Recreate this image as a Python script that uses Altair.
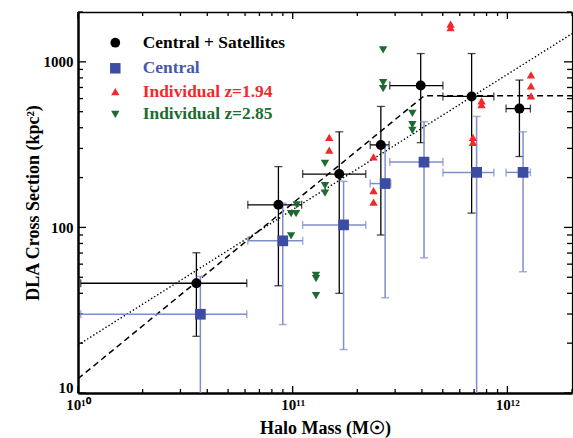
import math
import altair as alt
import pandas as pd

# ---------------- data ----------------
# Central + Satellites (black circles)
cs_mass = [3.56e10, 8.58e10, 1.648e11, 2.574e11, 3.947e11, 6.815e11, 1.138e12]
cs_sigma = [46, 137, 210, 315, 719, 618, 522]
cs_mass_lo = [1.03e10, 6.18e10, 1.113e11, 2.296e11, 2.834e11, 5.01e11, 9.86e11]
cs_mass_hi = [6.11e10, 1.101e11, 2.19e11, 2.812e11, 5.01e11, 8.65e11, 1.28e12]
cs_sigma_lo = [22, 44.4, 40, 90, 325, 122, 268]
cs_sigma_hi = [70.3, 233, 378, 538, 1122, 1122, 776]

# Central (blue squares)
c_mass = [3.715e10, 8.99e10, 1.726e11, 2.695e11, 4.09e11, 7.19e11, 1.183e12]
c_sigma = [29.9, 83, 103.6, 184, 248, 215, 215]
c_mass_lo = [1.03e10, 6.18e10, 1.113e11, 2.296e11, 2.834e11, 5.01e11, 9.86e11]
c_mass_hi = [6.11e10, 1.113e11, 2.19e11, 2.864e11, 5.01e11, 8.65e11, 1.28e12]
c_sigma_lo = [3, 25.9, 18.3, 37.6, 65.5, 3, 54]
c_sigma_hi = [50.6, 140, 190, 312, 435, 468, 378]

# Individual z=1.94 (red, up triangles)
z194_mass = [1.48e11, 1.48e11, 2.38e11, 2.38e11, 2.38e11, 5.44e11, 5.44e11,
             6.91e11, 6.91e11, 7.58e11, 7.58e11, 1.288e12, 1.288e12, 1.288e12]
z194_sigma = [350, 293, 267, 167, 142, 1690, 1610, 350, 326, 582, 551, 835, 717, 624]

# Individual z=2.85 (green, down triangles)
z285_mass = [9.83e10, 1.037e11, 1.044e11, 9.83e10, 1.284e11, 1.284e11, 1.284e11,
             1.414e11, 1.414e11, 1.414e11, 2.638e11, 2.638e11, 2.638e11,
             3.61e11, 3.61e11, 3.61e11]
z285_sigma = [121, 121, 137, 89, 51.3, 49, 38.8, 244, 179, 161, 1181, 750, 690, 489, 418, 385]

# fitted relations
dashed_mass = [1e10, 4.1e11, 2e12]
dashed_sigma = [12.2, 624, 624]
dotted_mass = [1e10, 2e12]
dotted_sigma = [19.5, 1480]

# axes
x_domain = [1e10, 2e12]
y_domain = [10.0, 2000.0]
x_major = [1e10, 1e11, 1e12]
x_major_labels = ["10¹⁰", "10¹¹", "10¹²"]
x_minor = [float(k * 10 ** e) for e in (10, 11) for k in range(2, 10)] + [2e12]
y_major = [10.0, 100.0, 1000.0]
y_major_labels = ["10", "100", "1000"]
y_minor = [float(k * 10 ** e) for e in (1, 2) for k in range(2, 10)] + [2000.0]

legend_labels = ["Central + Satellites", "Central", "Individual z=1.94", "Individual z=2.85"]

# ---------------- styling ----------------
W, H = 494, 381
FONT = "Liberation Serif"
BLACK = "#000000"
BLUE = "#3C4CA2"
BLUE_BAR = "#7F8DC9"
BLUE_TXT = "#4858AC"
RED = "#EE2A2A"
GREEN = "#1D6B31"

xs = alt.Scale(type="log", domain=x_domain, nice=False)
ys = alt.Scale(type="log", domain=y_domain, nice=False)


def X(f, axis=None):
    return alt.X(f, type="quantitative", scale=xs, axis=axis)


def Y(f, axis=None):
    return alt.Y(f, type="quantitative", scale=ys, axis=axis)


cs = pd.DataFrame(dict(m=cs_mass, s=cs_sigma, mlo=cs_mass_lo, mhi=cs_mass_hi,
                       slo=cs_sigma_lo, shi=cs_sigma_hi))
cc = pd.DataFrame(dict(m=c_mass, s=c_sigma, mlo=c_mass_lo, mhi=c_mass_hi,
                       slo=c_sigma_lo, shi=c_sigma_hi))
red = pd.DataFrame(dict(m=z194_mass, s=z194_sigma))
green = pd.DataFrame(dict(m=z285_mass, s=z285_sigma))
dashed = pd.DataFrame(dict(m=dashed_mass, s=dashed_sigma))
dotted = pd.DataFrame(dict(m=dotted_mass, s=dotted_sigma))

# ---------------- inward tick marks as short rules from the frame edge ----------------
X_DEC_PER_PX = math.log10(x_domain[1] / x_domain[0]) / W
Y_DEC_PER_PX = math.log10(y_domain[1] / y_domain[0]) / H


def xticks(vals, length):
    f = 10 ** (length * Y_DEC_PER_PX)
    out = []
    for a, b in ((y_domain[0], y_domain[0] * f), (y_domain[1], y_domain[1] / f)):
        d = pd.DataFrame({"tv": vals, "ta": a, "tb": b})
        out.append(alt.Chart(d).mark_rule(color=BLACK, strokeWidth=1.3).encode(
            x=X("tv"), y=Y("ta"), y2="tb"))
    return out


def yticks(vals, length):
    f = 10 ** (length * X_DEC_PER_PX)
    out = []
    for a, b in ((x_domain[0], x_domain[0] * f), (x_domain[1], x_domain[1] / f)):
        d = pd.DataFrame({"tw": vals, "ta": a, "tb": b})
        out.append(alt.Chart(d).mark_rule(color=BLACK, strokeWidth=1.3).encode(
            y=Y("tw"), x=X("ta"), x2="tb"))
    return out


tick_layers = xticks(x_major, 7) + xticks(x_minor, 4) + yticks(y_major, 8) + yticks(y_minor, 5)


def errorbars(df, color, width):
    hb = alt.Chart(df).mark_rule(color=color, strokeWidth=width, clip=True).encode(
        x=X("mlo"), x2="mhi", y=Y("s"))
    vb = alt.Chart(df).mark_rule(color=color, strokeWidth=width, clip=True).encode(
        x=X("m"), y=Y("slo"), y2="shi")
    hc = alt.Chart(df).transform_fold(["mlo", "mhi"], as_=["k", "v"]).mark_tick(
        orient="vertical", size=8, thickness=width, color=color, clip=True).encode(
        x=X("v:Q"), y=Y("s"))
    vc = alt.Chart(df).transform_fold(["slo", "shi"], as_=["k", "v"]).mark_tick(
        orient="horizontal", size=8, thickness=width, color=color, clip=True).encode(
        x=X("m"), y=Y("v:Q"))
    return [hb, vb, hc, vc]


dashed_line = alt.Chart(dashed).mark_line(color=BLACK, strokeWidth=1.5, strokeDash=[6, 4], clip=True).encode(
    x=X("m"), y=Y("s"))
dotted_line = alt.Chart(dotted).mark_line(color=BLACK, strokeWidth=1.4, strokeDash=[1.4, 2.2], clip=True).encode(
    x=X("m"), y=Y("s"))

circles = alt.Chart(cs).mark_point(shape="circle", filled=True, size=100, color=BLACK, opacity=1).encode(
    x=X("m"), y=Y("s"))
squares = alt.Chart(cc).mark_point(shape="square", filled=True, size=115, color=BLUE, opacity=1).encode(
    x=X("m"), y=Y("s"))
red_pts = alt.Chart(red).mark_point(shape="triangle-up", filled=True, size=70, color=RED, opacity=1).encode(
    x=X("m"), y=Y("s"))
green_pts = alt.Chart(green).mark_point(shape="triangle-down", filled=True, size=70, color=GREEN, opacity=1).encode(
    x=X("m"), y=Y("s"))

# ---------------- legend (manual) ----------------
leg_shapes = ["circle", "square", "triangle-up", "triangle-down"]
leg_colors = [BLACK, BLUE, RED, GREEN]
leg_text_colors = [BLACK, BLUE_TXT, RED, GREEN]
leg_sizes = [95, 110, 70, 70]
leg_y = [30.7, 56.3, 79.7, 102.3]
legend_layers = []
for lab, shp, col, tcol, sz, ry in zip(legend_labels, leg_shapes, leg_colors, leg_text_colors, leg_sizes, leg_y):
    d = pd.DataFrame({"t": [lab]})
    legend_layers.append(alt.Chart(d).mark_point(shape=shp, filled=True, size=sz, color=col, opacity=1).encode(
        x=alt.value(37.3), y=alt.value(ry)))
    legend_layers.append(alt.Chart(d).mark_text(align="left", baseline="middle", font=FONT, fontSize=17.4,
                                                fontWeight="bold", color=tcol).encode(
        x=alt.value(64.7), y=alt.value(ry), text="t:N"))


# ---------------- axes (labels, titles and frame) ----------------
def label_expr(vals, labs):
    parts = [f"datum.value < {v * 1.5:.6g} ? '{l}'" for v, l in zip(vals, labs)]
    return " : ".join(parts) + " : ''"


ax_x_labels = alt.Axis(orient="bottom", values=x_major, labelExpr=label_expr(x_major, x_major_labels),
                       ticks=False, grid=False, domain=True, domainColor=BLACK, domainWidth=2.5,
                       labelFont=FONT, labelFontSize=15, labelFontWeight="bold", labelColor=BLACK,
                       labelPadding=4, labelFlush=False, labelOverlap=False,
                       title="Halo Mass (M\u2609)", titleFont=FONT, titleFontSize=18,
                       titleFontWeight="bold", titleColor=BLACK, titlePadding=7)
ax_y_labels = alt.Axis(orient="left", values=y_major, labelExpr=label_expr(y_major, y_major_labels),
                       ticks=False, grid=False, domain=True, domainColor=BLACK, domainWidth=2.5,
                       labelFont=FONT, labelFontSize=15, labelFontWeight="bold", labelColor=BLACK,
                       labelPadding=5, labelFlush=False, labelOverlap=False,
                       labelOffset={"condition": {"test": "datum.value < 15", "value": -6}, "value": 0},
                       title="DLA Cross Section (kpc\u00b2)", titleFont=FONT, titleFontSize=18,
                       titleFontWeight="bold", titleColor=BLACK, titlePadding=1)
ax_x_top = alt.Axis(orient="top", values=x_major, ticks=False, labels=False, grid=False, title=None,
                    domain=True, domainColor=BLACK, domainWidth=1.5)
ax_y_right = alt.Axis(orient="right", values=y_major, ticks=False, labels=False, grid=False, title=None,
                      domain=True, domainColor=BLACK, domainWidth=1.2)

axis_layers = [alt.Chart(cs).mark_point(opacity=0).encode(x=X("m", ax), y=Y("s", ay))
               for ax, ay in [(ax_x_labels, ax_y_labels), (ax_x_top, ax_y_right)]]

layers = (tick_layers + [dashed_line, dotted_line] + errorbars(cs, BLACK, 1.3) + errorbars(cc, BLUE_BAR, 1.5)
          + [circles, squares, red_pts, green_pts] + legend_layers + axis_layers)

chart = alt.layer(*layers).resolve_axis(x="independent", y="independent").properties(
    width=W, height=H,
    padding={"left": 78, "top": 12, "right": 1, "bottom": 45},
    autosize=alt.AutoSizeParams(type="none"),
).configure_view(stroke=None).configure(background="white")

chart.save("out.html", embed_options={"renderer": "svg", "actions": False})
